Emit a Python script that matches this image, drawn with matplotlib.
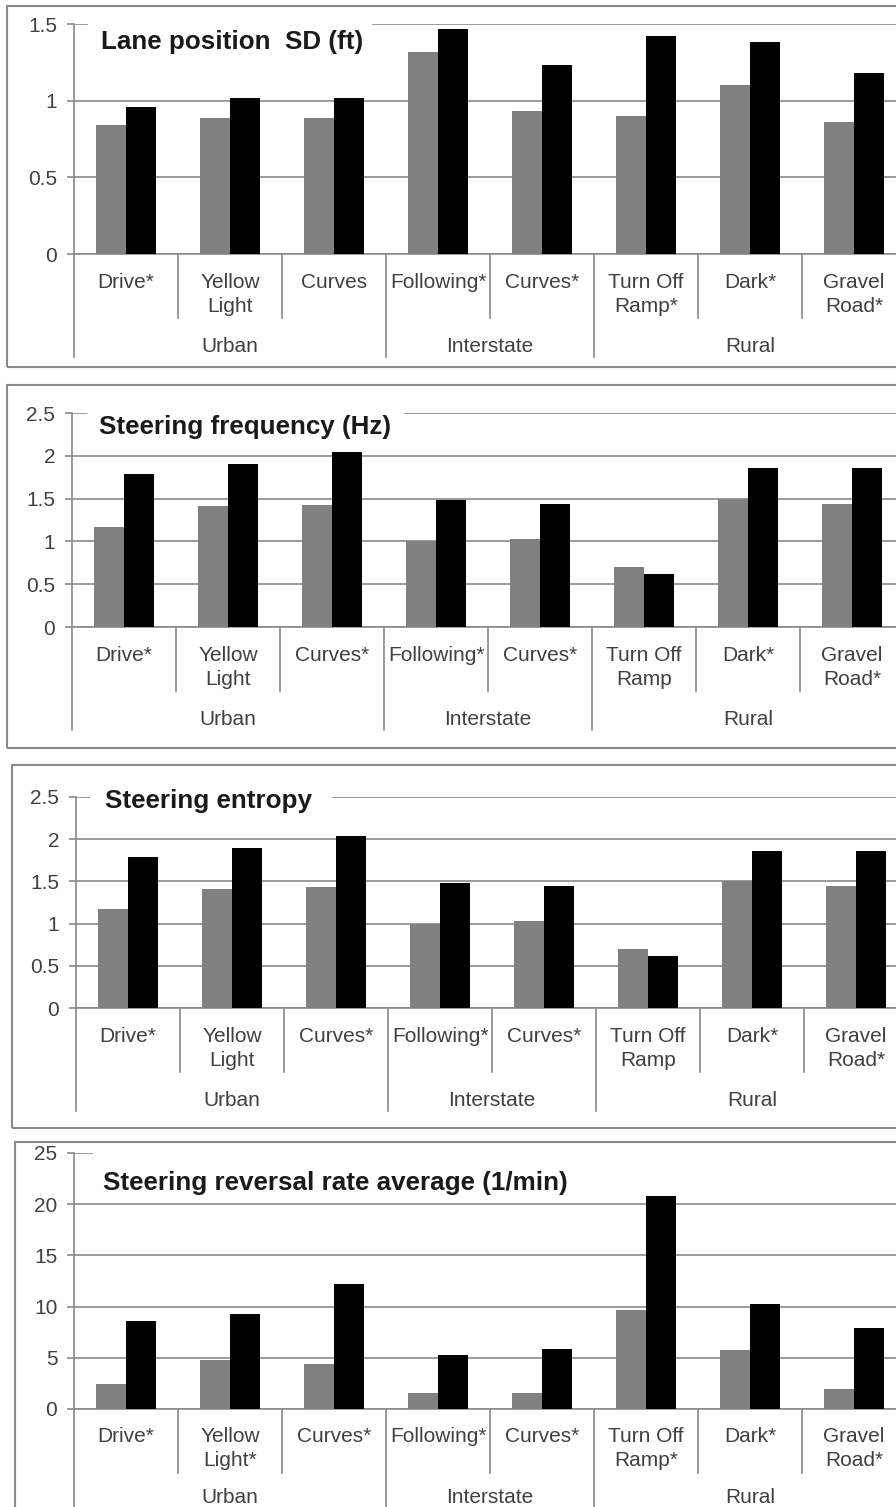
import matplotlib.pyplot as plt
from matplotlib.patches import Rectangle
from matplotlib import transforms
from matplotlib.ticker import FormatStrFormatter

W, H = 896, 1507
plt.rcParams['font.family'] = ['Liberation Sans', 'DejaVu Sans']

# groups of road types on the lower category axis
groups = ["Urban", "Interstate", "Rural"]
group_sizes = [3, 2, 3]

# lane position SD (ft)
lane_labels = ["Drive*", "Yellow\nLight", "Curves", "Following*", "Curves*",
               "Turn Off\nRamp*", "Dark*", "Gravel\nRoad*"]
lane_gray = [0.84, 0.89, 0.89, 1.32, 0.93, 0.90, 1.10, 0.86]
lane_black = [0.96, 1.02, 1.02, 1.47, 1.23, 1.42, 1.38, 1.18]

# steering frequency (Hz)
freq_labels = ["Drive*", "Yellow\nLight", "Curves*", "Following*", "Curves*",
               "Turn Off\nRamp", "Dark*", "Gravel\nRoad*"]
freq_gray = [1.17, 1.41, 1.43, 1.00, 1.03, 0.70, 1.50, 1.44]
freq_black = [1.79, 1.90, 2.04, 1.48, 1.44, 0.62, 1.86, 1.86]

# steering entropy
ent_labels = ["Drive*", "Yellow\nLight", "Curves*", "Following*", "Curves*",
              "Turn Off\nRamp", "Dark*", "Gravel\nRoad*"]
ent_gray = [1.17, 1.41, 1.43, 1.00, 1.03, 0.70, 1.50, 1.44]
ent_black = [1.79, 1.90, 2.04, 1.48, 1.44, 0.62, 1.86, 1.86]

# steering reversal rate average (1/min)
rev_labels = ["Drive*", "Yellow\nLight*", "Curves*", "Following*", "Curves*",
              "Turn Off\nRamp*", "Dark*", "Gravel\nRoad*"]
rev_gray = [2.4, 4.8, 4.4, 1.6, 1.6, 9.7, 5.8, 2.0]
rev_black = [8.6, 9.3, 12.2, 5.3, 5.9, 20.8, 10.3, 7.9]

GRAY = '#808080'
LINE = '#8a8a8a'
TXT = '#404040'


def fx(x):
    return x / W


def fy(y):
    return 1 - y / H


fig = plt.figure(figsize=(W / 100, H / 100), dpi=100)

# geometry in pixels: box, axis origin, title, white patch behind title
panels = [
    dict(title="Lane position  SD (ft)", labels=lane_labels, a=lane_gray, b=lane_black,
         ymax=1.5, step=0.5, box=(7, 6, 367), ax=(74, 24, 254),
         tpos=(101, 49), cover=(88, 372), gdrop=98),
    dict(title="Steering frequency (Hz)", labels=freq_labels, a=freq_gray, b=freq_black,
         ymax=2.5, step=0.5, box=(7, 385, 748), ax=(72, 413, 627),
         tpos=(99, 434), cover=(87, 404), gdrop=98),
    dict(title="Steering entropy", labels=ent_labels, a=ent_gray, b=ent_black,
         ymax=2.5, step=0.5, box=(12, 765, 1128), ax=(76, 797, 1008),
         tpos=(105, 808), cover=(90, 332), gdrop=98),
    dict(title="Steering reversal rate average (1/min)", labels=rev_labels, a=rev_gray, b=rev_black,
         ymax=25, step=5, box=(15, 1142, 1530), ax=(74, 1153, 1409),
         tpos=(103, 1190), cover=(93, 910), gdrop=94),
]

cat_w = 104
n = len(lane_labels)
bw = 1 / 3.5

for p in panels:
    bx, btop, bbot = p['box']
    fig.patches.append(Rectangle((fx(bx), fy(bbot)), fx(930 - bx), (bbot - btop) / H,
                                 transform=fig.transFigure, fill=False,
                                 edgecolor=LINE, lw=1.5, zorder=3))
    x0, ytop, y0 = p['ax']
    ax = fig.add_axes([fx(x0), fy(y0), n * cat_w / W, (y0 - ytop) / H])
    ax.patch.set_alpha(0)
    xs = [i + 0.5 for i in range(n)]
    ax.bar([x - bw / 2 for x in xs], p['a'], width=bw, color=GRAY, zorder=3)
    ax.bar([x + bw / 2 for x in xs], p['b'], width=bw, color='black', zorder=3)
    ax.set_xlim(0, n)
    ax.set_ylim(0, p['ymax'])
    ticks = []
    v = 0
    while v <= p['ymax'] + 1e-9:
        ticks.append(round(v, 3))
        v += p['step']
    ax.set_yticks(ticks)
    ax.yaxis.set_major_formatter(FormatStrFormatter('%g'))
    ax.set_xticks([])
    ax.yaxis.grid(True, color=LINE, lw=1.2)
    ax.set_axisbelow(True)
    for s in ['top', 'right']:
        ax.spines[s].set_visible(False)
    for s in ['left', 'bottom']:
        ax.spines[s].set_color(LINE)
        ax.spines[s].set_linewidth(1.2)
    ax.tick_params(axis='y', direction='out', length=5, width=1.2, color=LINE,
                   labelsize=15, labelcolor=TXT, pad=7)

    trans = transforms.blended_transform_factory(ax.transData, fig.transFigure)
    # category dividers
    bounds_group = [0]
    for g in group_sizes:
        bounds_group.append(bounds_group[-1] + g)
    for k in range(n + 1):
        depth = 103 if k in bounds_group else 64
        ax.plot([k, k], [fy(y0), fy(y0 + depth)], transform=trans, color=LINE,
                lw=1.2, clip_on=False)
    # category labels
    for i, lab in enumerate(p['labels']):
        for j, line in enumerate(lab.split('\n')):
            ax.annotate(line, xy=(xs[i], 0), xytext=(0, -(33.5 + 24 * j) * 0.72),
                        textcoords='offset points', ha='center', va='baseline',
                        fontsize=15, color=TXT, annotation_clip=False)
    # group labels
    for gi, g in enumerate(groups):
        cx = (bounds_group[gi] + bounds_group[gi + 1]) / 2
        ax.annotate(g, xy=(cx, 0), xytext=(0, -p['gdrop'] * 0.72), textcoords='offset points',
                    ha='center', va='baseline', fontsize=15, color=TXT,
                    annotation_clip=False)

    # white patch hiding the top gridline behind the title
    c0, c1 = p['cover']
    fig.patches.append(Rectangle((fx(c0), fy(ytop + 6)), fx(c1 - c0), 12 / H,
                                 transform=fig.transFigure, facecolor='white',
                                 edgecolor='none', zorder=2))
    tx, ty = p['tpos']
    fig.text(fx(tx), fy(ty), p['title'], fontsize=18.7, fontweight='bold',
             color='#1a1a1a', ha='left', va='baseline', zorder=4)

fig.savefig('out.png', dpi=100)
